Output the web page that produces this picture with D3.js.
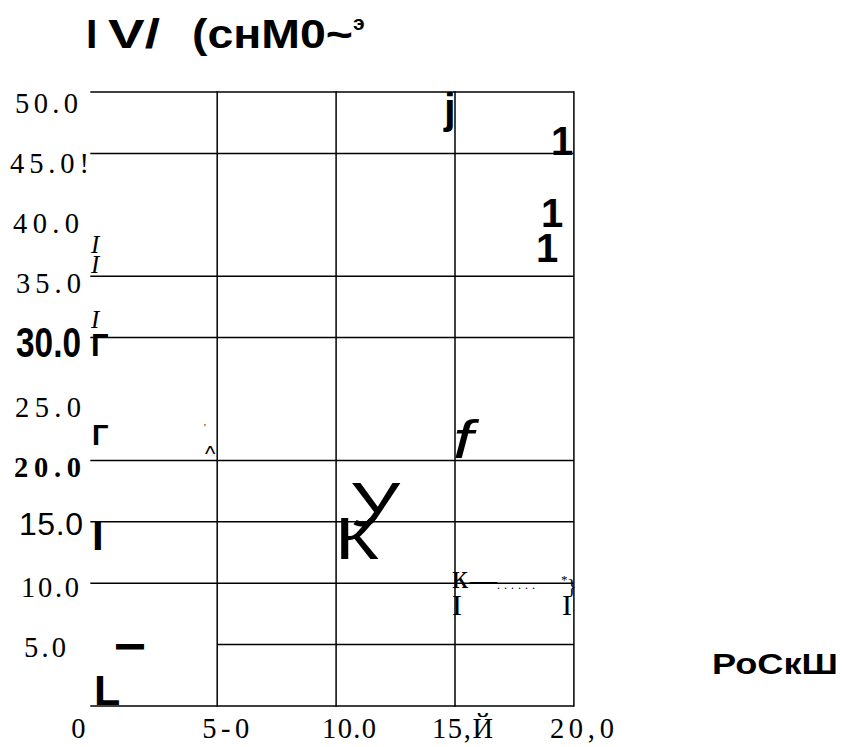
<!DOCTYPE html>
<html>
<head>
<meta charset="utf-8">
<script src="https://cdn.jsdelivr.net/npm/d3@7.9.0/dist/d3.min.js"></script>
<style>
  html, body { margin: 0; padding: 0; background: #fff; }
  svg { display: block; }
  .serif { font-family: "Liberation Serif", "Times New Roman", serif; }
  .sans { font-family: "Liberation Sans", Arial, sans-serif; }
</style>
</head>
<body>
<svg id="chart" width="842" height="747"></svg>
<script>
// chart values
const xTicks = [0, 5, 10, 15, 20];
const xTickLabels = ['0', '5-0', '10.0', '15,Й', '20,0'];
const yTicks = [50, 45, 40, 35, 30, 25, 20, 15, 10, 5];
const yTickLabels = ['50.0', '45.0!', '40.0', '35.0', '30.0', '25.0', '20.0', '15.0', '10.0', '5.0'];
const hGrid = [0, 5, 10, 15, 20, 30, 35, 45, 50];
const hGridFrom = [0, 5, 0, 0, 0, 0, 0, 0, 0];
const vGrid = [5, 10, 15, 20];

// label looks (not data)
const yLabelStyle = [
  { x: 15, dy: 21, cls: 'serif', size: 28.5, weight: 400, len: 63 },
  { x: 10, dy: 19.6, cls: 'serif', size: 28.5, weight: 400, len: 79 },
  { x: 13, dy: 18.2, cls: 'serif', size: 28.5, weight: 400, len: 66 },
  { x: 16, dy: 16.8, cls: 'serif', size: 28.5, weight: 400, len: 65 },
  { x: 16, dy: 19.4, cls: 'sans', size: 43, weight: 700, len: 65, squeeze: true },
  { x: 15, dy: 18, cls: 'serif', size: 28.5, weight: 400, len: 66 },
  { x: 14, dy: 16.6, cls: 'serif', size: 28.5, weight: 700, len: 67 },
  { x: 19, dy: 13.2, cls: 'sans', size: 32, weight: 400, len: 64 },
  { x: 21, dy: 13.8, cls: 'serif', size: 28.5, weight: 400, len: 58 },
  { x: 24, dy: 12.4, cls: 'serif', size: 28.5, weight: 400, len: 42 }
];
const xLabelDx = [-27, -15, -14, -23, -24];
const xLabelLen = [0, 47, 54, 61, 64];

const svg = d3.select('#chart');

let x = d3.scaleLinear().domain([0, 20]).range([98.3, 573.9]);
let y = d3.scaleLinear().domain([0, 50]).range([706, 92]);

// grid
svg.append('g')
  .selectAll('line')
  .data(hGrid)
  .join('line')
  .attr('x1', (d, i) => x(hGridFrom[i]) - (hGridFrom[i] === 0 ? 8 : 0))
  .attr('x2', x(20))
  .attr('y1', (d) => y(d))
  .attr('y2', (d) => y(d))
  .attr('stroke', '#000')
  .attr('stroke-width', 1.5);

svg.append('g')
  .selectAll('line')
  .data(vGrid)
  .join('line')
  .attr('x1', (d) => x(d))
  .attr('x2', (d) => x(d))
  .attr('y1', y(50) - 0.7)
  .attr('y2', y(0) + 0.7)
  .attr('stroke', '#000')
  .attr('stroke-width', 1.5);

// y tick labels
svg.append('g')
  .selectAll('text')
  .data(yTicks)
  .join('text')
  .attr('class', (d, i) => yLabelStyle[i].cls)
  .attr('x', (d, i) => yLabelStyle[i].x)
  .attr('y', (d, i) => y(d) + yLabelStyle[i].dy)
  .attr('font-size', (d, i) => yLabelStyle[i].size)
  .attr('font-weight', (d, i) => yLabelStyle[i].weight)
  .attr('textLength', (d, i) => yLabelStyle[i].len)
  .attr('lengthAdjust', (d, i) => (yLabelStyle[i].squeeze ? 'spacingAndGlyphs' : 'spacing'))
  .text((d, i) => yTickLabels[i]);

// x tick labels
svg.append('g')
  .selectAll('text')
  .data(xTicks)
  .join('text')
  .attr('class', 'serif')
  .attr('x', (d, i) => x(d) + xLabelDx[i])
  .attr('y', y(0) + 32)
  .attr('font-size', 28.5)
  .each(function (d, i) {
    if (xLabelLen[i]) d3.select(this).attr('textLength', xLabelLen[i]).attr('lengthAdjust', 'spacing');
  })
  .text((d, i) => xTickLabels[i]);

// title (the scan stretched it sideways)
let title = svg.append('g')
  .attr('class', 'sans')
  .attr('font-size', 41)
  .attr('font-weight', 700);
title.append('text').attr('x', 86).attr('y', 48).text('I');
title.append('text').attr('x', 108).attr('y', 48)
  .attr('textLength', 52).attr('lengthAdjust', 'spacingAndGlyphs').text('V/');
title.append('text').attr('x', 192).attr('y', 48)
  .attr('textLength', 161).attr('lengthAdjust', 'spacingAndGlyphs').text('(снМ0~');
title.append('text').attr('x', 353).attr('y', 30).attr('font-size', 21).text('э');

// stray glyphs of the scan
const glyphs = [
  { t: 'j', x: 444, y: 123, cls: 'sans', size: 42, weight: 700 },
  { t: '1', x: 551, y: 155, cls: 'sans', size: 40, weight: 700 },
  { t: '1', x: 541, y: 227, cls: 'sans', size: 40, weight: 700 },
  { t: '1', x: 536, y: 262, cls: 'sans', size: 40, weight: 700 },
  { t: 'I', x: 91, y: 253, cls: 'serif', size: 25, style: 'italic' },
  { t: 'I', x: 91, y: 273, cls: 'serif', size: 25, style: 'italic' },
  { t: 'I', x: 91, y: 328, cls: 'serif', size: 25, style: 'italic' },
  { t: 'Г', x: 91, y: 356, cls: 'sans', size: 31, weight: 700 },
  { t: 'Г', x: 92, y: 445, cls: 'sans', size: 29, weight: 700 },
  { t: "'", x: 204, y: 431, cls: 'serif', size: 10 },
  { t: '^', x: 205, y: 461, cls: 'sans', size: 22 },
  { t: 'I', x: 92, y: 550, cls: 'sans', size: 42, weight: 700 },
  { t: 'L', x: 94, y: 705, cls: 'sans', size: 43, weight: 700 },
  { t: 'f', x: 453, y: 458, cls: 'sans', size: 54, style: 'italic', len: 20 },
  { t: 'У', x: 350, y: 526, cls: 'sans', size: 63, len: 50 },
  { t: 'К', x: 335, y: 559, cls: 'sans', size: 60, len: 44 },
  { t: 'к', x: 452, y: 588, cls: 'serif', size: 33 },
  { t: '—', x: 470, y: 589, cls: 'serif', size: 27 },
  { t: '......', x: 497, y: 589, cls: 'serif', size: 12, spacing: 4 },
  { t: '—', x: 537, y: 589, cls: 'serif', size: 20 },
  { t: '*', x: 561, y: 584, cls: 'serif', size: 13 },
  { t: '}', x: 567, y: 593, cls: 'serif', size: 20 },
  { t: 'I', x: 452, y: 615, cls: 'serif', size: 30 },
  { t: 'I', x: 562, y: 615, cls: 'serif', size: 30 }
];

svg.append('g')
  .selectAll('text')
  .data(glyphs)
  .join('text')
  .attr('class', (d) => d.cls)
  .attr('x', (d) => d.x)
  .attr('y', (d) => d.y)
  .attr('font-size', (d) => d.size)
  .attr('font-weight', (d) => d.weight || 400)
  .attr('font-style', (d) => d.style || 'normal')
  .attr('letter-spacing', (d) => d.spacing || 0)
  .each(function (d) {
    if (d.len) d3.select(this).attr('textLength', d.len).attr('lengthAdjust', 'spacingAndGlyphs');
  })
  .text((d) => d.t);

// thick dash near the bottom left
svg.append('text')
  .attr('class', 'sans')
  .attr('x', 117.5)
  .attr('y', 653.5)
  .attr('font-size', 25)
  .attr('font-weight', 700)
  .attr('stroke', '#000')
  .attr('stroke-width', 3)
  .text('—');

// the word off to the right
svg.append('text')
  .attr('class', 'sans')
  .attr('x', 712)
  .attr('y', 674)
  .attr('font-size', 29)
  .attr('font-weight', 700)
  .attr('textLength', 126)
  .attr('lengthAdjust', 'spacingAndGlyphs')
  .text('РоСкШ');
</script>
</body>
</html>
